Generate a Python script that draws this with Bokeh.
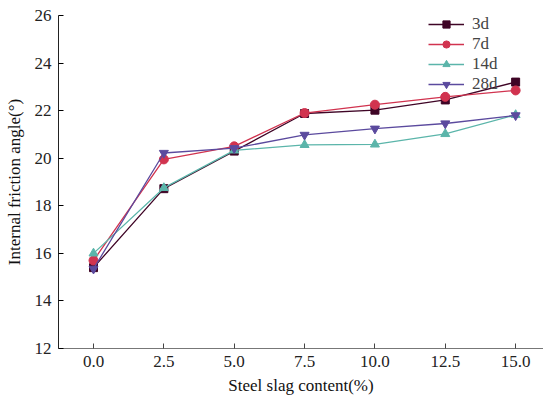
from bokeh.plotting import figure
from bokeh.models import FixedTicker, PrintfTickFormatter, Range1d, Legend, LegendItem
from bokeh.embed import file_html
from bokeh.resources import INLINE

content = [0.0, 2.5, 5.0, 7.5, 10.0, 12.5, 15.0]
d3 = [15.4, 18.72, 20.3, 21.88, 22.02, 22.45, 23.2]
d7 = [15.7, 19.95, 20.5, 21.9, 22.25, 22.58, 22.85]
d14 = [16.0, 18.75, 20.33, 20.56, 20.58, 21.02, 21.82]
d28 = [15.35, 20.22, 20.42, 20.98, 21.24, 21.46, 21.8]
y_ticks = [12, 14, 16, 18, 20, 22, 24, 26]

FONT = "Liberation Serif"

p = figure(width=543, height=400, output_backend="svg", toolbar_location=None,
           x_range=Range1d(-1.244, 15.99), y_range=Range1d(12, 26),
           min_border_left=58, min_border_top=15, min_border_bottom=52, min_border_right=0)
p.outline_line_color = None
p.xgrid.visible = False
p.ygrid.visible = False

p.xaxis.ticker = FixedTicker(ticks=content)
p.xaxis.formatter = PrintfTickFormatter(format="%.1f")
p.yaxis.ticker = FixedTicker(ticks=y_ticks)
for ax in (p.xaxis[0], p.yaxis[0]):
    ax.major_tick_in = 5
    ax.major_tick_out = 0
    ax.minor_tick_line_color = None
    ax.major_label_text_font = FONT
    ax.major_label_text_font_size = "17px"
    ax.major_label_text_color = "#222222"
    ax.axis_label_text_font = FONT
    ax.axis_label_text_font_size = "17px"
    ax.axis_label_text_font_style = "normal"
    ax.axis_label_text_color = "#111111"
p.xaxis.axis_line_color = "#777777"
p.xaxis.major_tick_line_color = "#444444"
p.yaxis.axis_line_color = "#222222"
p.xaxis.axis_label = "Steel slag content(%)"
p.yaxis.axis_label = "Internal friction angle(°)"
p.xaxis.major_label_standoff = 7
p.xaxis.axis_label_standoff = 6
p.yaxis.major_label_standoff = 7
p.yaxis.axis_label_standoff = 8

series = [
    ("3d", d3, "#3f0526", "square", 8),
    ("7d", d7, "#d1334f", "circle", 9),
    ("14d", d14, "#5bb5aa", "triangle", 9),
    ("28d", d28, "#5b4a9e", "inverted_triangle", 9),
]
items = []
for name, ys, col, mk, sz in series:
    l = p.line(content, ys, line_color=col, line_width=1.3)
    s = p.scatter(content, ys, marker=mk, size=sz, fill_color=col, line_color=col)
    items.append(LegendItem(label=name, renderers=[l, s]))

legend = Legend(items=items, location=(370, 254), border_line_color=None,
                background_fill_alpha=0, label_text_font=FONT, label_text_font_size="17px",
                glyph_width=36, glyph_height=18, label_height=18, spacing=0, padding=0,
                margin=0, label_standoff=8)
p.add_layout(legend)

open("out.html", "w").write(file_html(p, INLINE))
